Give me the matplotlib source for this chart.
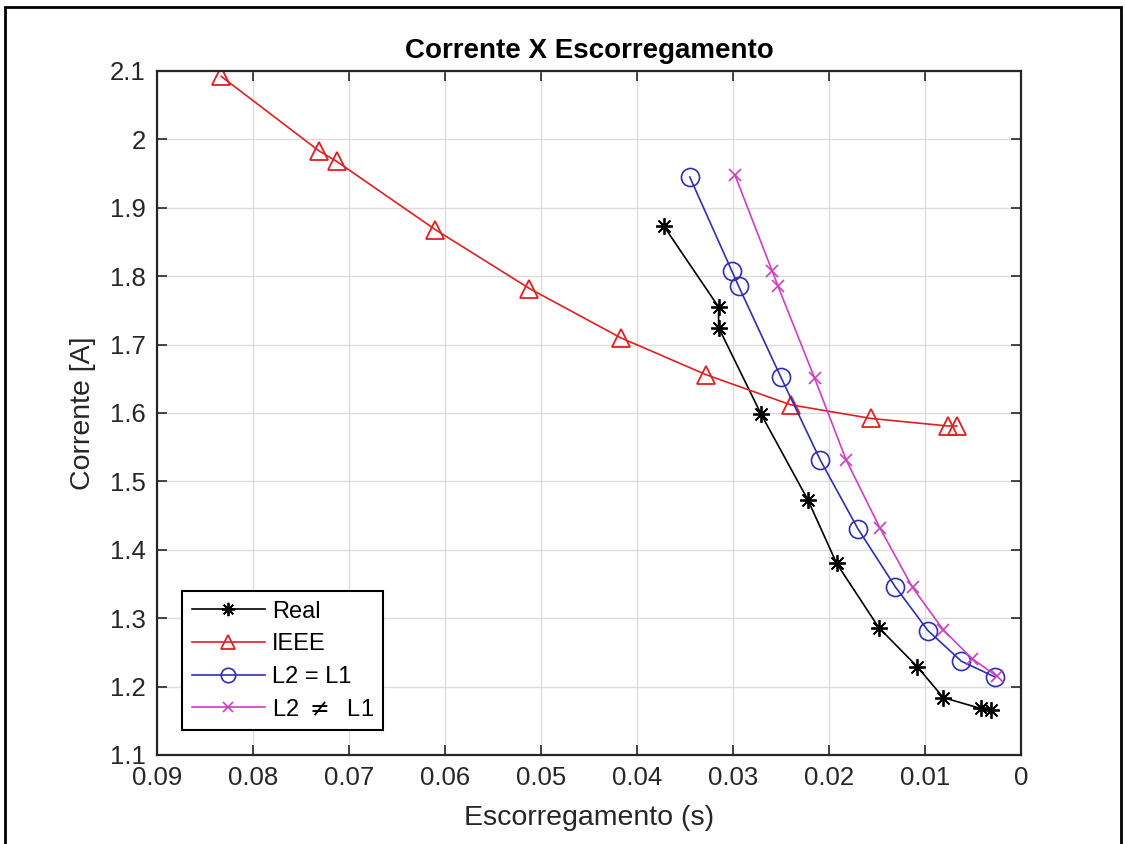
import matplotlib
matplotlib.use('Agg')
import matplotlib.pyplot as plt
from matplotlib.patches import Rectangle
from matplotlib.ticker import FuncFormatter

plt.rcParams['font.family'] = ['Liberation Sans', 'DejaVu Sans']

# slip (s) and current (A) for each curve
s_real = [0.0372, 0.0315, 0.0315, 0.0271, 0.0222, 0.0192, 0.0148, 0.0108, 0.0081, 0.0042, 0.0031]
i_real = [1.873, 1.755, 1.725, 1.599, 1.473, 1.380, 1.286, 1.229, 1.184, 1.168, 1.166]

s_ieee = [0.0833, 0.0731, 0.0713, 0.0610, 0.0512, 0.0417, 0.0328, 0.0240, 0.0156, 0.0076, 0.0067]
i_ieee = [2.092, 1.983, 1.968, 1.868, 1.782, 1.710, 1.656, 1.612, 1.592, 1.581, 1.581]

s_eq = [0.0345, 0.0301, 0.0294, 0.0250, 0.0209, 0.0170, 0.0131, 0.0097, 0.0062, 0.0027]
i_eq = [1.945, 1.807, 1.785, 1.652, 1.531, 1.431, 1.346, 1.282, 1.237, 1.214]

s_neq = [0.0298, 0.0259, 0.0253, 0.0215, 0.0182, 0.0147, 0.0113, 0.0081, 0.0051, 0.0025]
i_neq = [1.948, 1.807, 1.785, 1.651, 1.531, 1.432, 1.345, 1.283, 1.241, 1.215]

x_ticks = [0.09, 0.08, 0.07, 0.06, 0.05, 0.04, 0.03, 0.02, 0.01, 0]
y_ticks = [1.1, 1.2, 1.3, 1.4, 1.5, 1.6, 1.7, 1.8, 1.9, 2.0, 2.1]

W, H = 1125, 844
fig = plt.figure(figsize=(W / 100, H / 100), dpi=100)
# axes box in pixels: left 157, right 1021, top 71, bottom 755
ax = fig.add_axes([157 / W, 1 - 755 / H, 864 / W, 684 / H])

# 8-armed asterisk like the MATLAB '*' marker
star = (8, 2, 0)
ax.plot(s_real, i_real, color='black', lw=1.2, marker=star, ms=12, mew=1.3, label='Real')
ax.plot(s_ieee, i_ieee, color='#e02020', lw=1.2, marker='^', ms=13, mfc='none', mew=1.3, label='IEEE')
ax.plot(s_eq, i_eq, color='#2f2fb0', lw=1.2, marker='o', ms=13, mfc='none', mew=1.2, label='L2 = L1')
ax.plot(s_neq, i_neq, color='#cc40c0', lw=1.2, marker='x', ms=9, mew=1.2, label='L2 $\\neq$  L1')

ax.set_xlim(0.09, 0)
ax.set_ylim(1.1, 2.1)
ax.set_xticks(x_ticks)
ax.set_yticks(y_ticks)
fmt = FuncFormatter(lambda v, p: f'{round(v, 3):g}')
ax.xaxis.set_major_formatter(fmt)
ax.yaxis.set_major_formatter(fmt)

ax.grid(True, color='#dcdcdc', lw=1.0)
ax.set_axisbelow(True)
ax.tick_params(direction='in', length=7, width=1.2, top=True, right=True,
               labelsize=18.5, colors='#262626', pad=8)
for sp in ax.spines.values():
    sp.set_color('#262626')
    sp.set_linewidth(1.6)

ax.set_title('Corrente X Escorregamento', fontsize=20, fontweight='bold', pad=9)
ax.set_xlabel('Escorregamento (s)', fontsize=20.5, color='#262626', labelpad=11)
ax.set_ylabel('Corrente [A]', fontsize=20.5, color='#262626', labelpad=10)

leg = ax.legend(loc='lower left', bbox_to_anchor=(0.029, 0.0365), borderaxespad=0,
                fontsize=17, fancybox=False, framealpha=1, edgecolor='black',
                handlelength=3.1, handletextpad=0.3, labelspacing=0.45, borderpad=0.4,
                markerscale=0.8)
leg.get_frame().set_linewidth(1.5)

# outer frame of the figure window
fig.patches.append(Rectangle((5 / W, -0.01), 1116 / W, 1 - 7 / H + 0.01, transform=fig.transFigure,
                             fill=False, edgecolor='black', lw=2))

fig.savefig('out.png', dpi=100)
